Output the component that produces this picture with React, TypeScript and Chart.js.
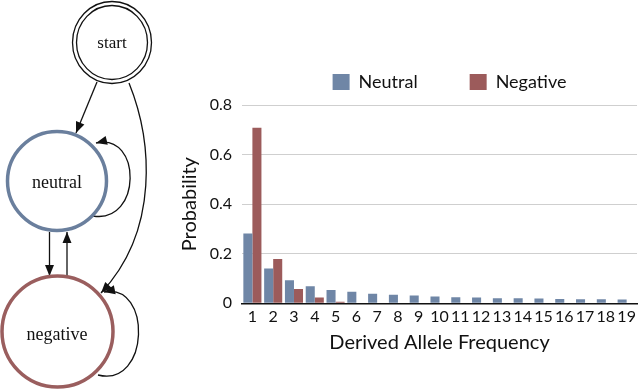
import React, { useEffect, useRef } from 'react';
import { Chart, registerables } from 'chart.js';

Chart.register(...registerables);

const categories = ['1', '2', '3', '4', '5', '6', '7', '8', '9', '10', '11', '12', '13', '14', '15', '16', '17', '18', '19'];
const neutralValues = [0.282, 0.14, 0.093, 0.069, 0.054, 0.047, 0.039, 0.034, 0.031, 0.027, 0.024, 0.023, 0.02, 0.02, 0.019, 0.017, 0.016, 0.016, 0.015];
const negativeValues = [0.708, 0.179, 0.058, 0.023, 0.006, 0, 0, 0, 0, 0, 0, 0, 0, 0, 0, 0, 0, 0, 0];
const seriesLabels = ['Neutral', 'Negative'];
const seriesColors = ['#6f86a6', '#9c5b5b'];
const yTicks = [0, 0.2, 0.4, 0.6, 0.8];
const stateLabels = ['start', 'neutral', 'negative'];

const FONT = 'Lato, "Open Sans", sans-serif';

function arrowHead(ctx: CanvasRenderingContext2D, tx: number, ty: number, fx: number, fy: number) {
  const a = Math.atan2(ty - fy, tx - fx);
  const len = 11;
  const hw = 4.5;
  const bx = tx - Math.cos(a) * len;
  const by = ty - Math.sin(a) * len;
  ctx.beginPath();
  ctx.moveTo(tx, ty);
  ctx.lineTo(bx + Math.sin(a) * hw, by - Math.cos(a) * hw);
  ctx.lineTo(bx - Math.sin(a) * hw, by + Math.cos(a) * hw);
  ctx.closePath();
  ctx.fill();
}

function line(ctx: CanvasRenderingContext2D, x0: number, y0: number, x1: number, y1: number) {
  ctx.beginPath();
  ctx.moveTo(x0, y0);
  ctx.lineTo(x1, y1);
  ctx.stroke();
  arrowHead(ctx, x1, y1, x0, y0);
}

function curve(ctx: CanvasRenderingContext2D, p: number[]) {
  ctx.beginPath();
  ctx.moveTo(p[0], p[1]);
  ctx.bezierCurveTo(p[2], p[3], p[4], p[5], p[6], p[7]);
  ctx.stroke();
  arrowHead(ctx, p[6], p[7], p[4], p[5]);
}

const legendShiftPlugin = {
  id: 'legendShift',
  afterLayout(chart: any) {
    if (chart.legend) {
      chart.legend.left += 10;
      chart.legend.right += 10;
    }
  },
};

const diagramPlugin = {
  id: 'stateDiagram',
  afterDraw(chart: any) {
    const ctx: CanvasRenderingContext2D = chart.ctx;
    ctx.save();
    ctx.strokeStyle = '#111';
    ctx.fillStyle = '#111';
    ctx.lineWidth = 1.3;
    // start double circle
    ctx.beginPath();
    ctx.ellipse(112, 42.5, 39.5, 41, 0, 0, Math.PI * 2);
    ctx.stroke();
    ctx.beginPath();
    ctx.ellipse(112, 42.5, 35.5, 37, 0, 0, Math.PI * 2);
    ctx.stroke();
    // edges
    line(ctx, 97, 82, 76, 133);
    curve(ctx, [129, 83, 152, 140, 160, 230, 101, 293]);
    curve(ctx, [93, 216, 142, 224, 142, 132, 96, 143]);
    line(ctx, 49.5, 232, 49.5, 276);
    line(ctx, 67, 276, 67, 232);
    curve(ctx, [98, 375, 150, 388, 152, 282, 104, 292]);
    // neutral circle
    ctx.lineWidth = 3.5;
    ctx.strokeStyle = '#6a7f9d';
    ctx.beginPath();
    ctx.arc(57, 181, 49.5, 0, Math.PI * 2);
    ctx.stroke();
    // negative circle
    ctx.strokeStyle = '#9a5e5e';
    ctx.beginPath();
    ctx.arc(57.5, 331.5, 55.5, 0, Math.PI * 2);
    ctx.stroke();
    // labels
    ctx.fillStyle = '#111';
    ctx.textAlign = 'center';
    ctx.textBaseline = 'middle';
    ctx.font = '17px "Liberation Serif", "DejaVu Serif", serif';
    ctx.fillText(stateLabels[0], 112, 44);
    ctx.font = '18px "Liberation Serif", "DejaVu Serif", serif';
    ctx.fillText(stateLabels[1], 57, 183);
    ctx.fillText(stateLabels[2], 57, 335);
    ctx.restore();
  },
};

export default function App() {
  const ref = useRef<HTMLCanvasElement | null>(null);
  useEffect(() => {
    if (!ref.current) return;
    const chart = new Chart(ref.current, {
      type: 'bar',
      data: {
        labels: categories,
        datasets: [
          { label: seriesLabels[0], data: neutralValues, backgroundColor: seriesColors[0], borderWidth: 0, categoryPercentage: 0.87, barPercentage: 1 },
          { label: seriesLabels[1], data: negativeValues, backgroundColor: seriesColors[1], borderWidth: 0, categoryPercentage: 0.87, barPercentage: 1 },
        ],
      },
      options: {
        responsive: false,
        animation: false,
        layout: { padding: { left: 178, right: 1, top: 21, bottom: 37 } },
        plugins: {
          tooltip: { enabled: false },
          legend: {
            position: 'top',
            fullSize: false,
            labels: {
              boxWidth: 17,
              boxHeight: 16,
              padding: 52,
              color: '#111',
              font: { family: FONT, size: 18 },
            },
          },
          subtitle: {
            display: true,
            text: '',
            position: 'top',
            fullSize: false,
            weight: 500,
            font: { size: 1, lineHeight: 1 },
            padding: { top: 0, bottom: 3 },
          },
        },
        scales: {
          x: {
            grid: { display: false, drawTicks: false },
            border: { display: true, color: '#111', width: 1.5 },
            ticks: { color: '#111', padding: 4, font: { family: FONT, size: 16 }, maxRotation: 0, autoSkip: false },
            title: { display: true, text: 'Derived Allele Frequency', color: '#111', font: { family: FONT, size: 20 }, padding: { top: 0.5, bottom: 0 } },
          },
          y: {
            min: 0,
            max: 0.8,
            afterBuildTicks: (scale: any) => {
              scale.ticks = yTicks.map((v) => ({ value: v }));
            },
            afterFit: (scale: any) => {
              scale.width = 64;
            },
            grid: { color: '#cfcfcf', lineWidth: 1, drawTicks: false },
            border: { display: false },
            ticks: { color: '#111', padding: 10, font: { family: FONT, size: 16 } },
            title: { display: true, text: 'Probability', color: '#111', font: { family: FONT, size: 20 }, padding: 0 },
          },
        },
      },
      plugins: [legendShiftPlugin, diagramPlugin],
    });
    return () => chart.destroy();
  }, []);
  return (
    <div style={{ position: 'fixed', left: 0, top: 0, width: 640, height: 392, background: '#fff' }}>
      <canvas ref={ref} width={640} height={392} style={{ width: 640, height: 392 }} />
    </div>
  );
}
